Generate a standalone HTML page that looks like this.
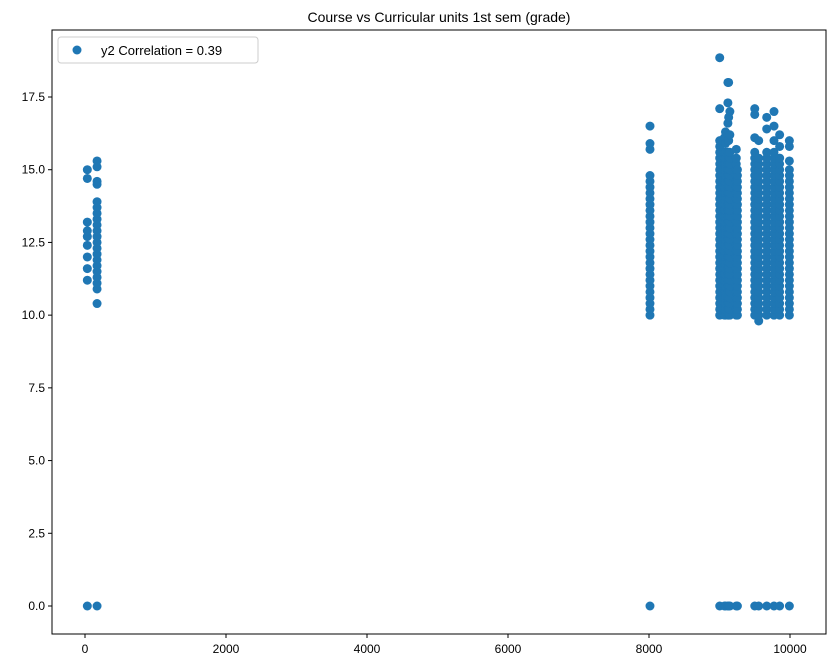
<!DOCTYPE html>
<html><head><meta charset="utf-8"><style>
body{margin:0;background:#fff;}
svg{display:block;font-family:"Liberation Sans","DejaVu Sans",sans-serif;}
</style></head><body>
<svg id="chart" width="835" height="668">
<text x="439" y="22" text-anchor="middle" font-size="14">Course vs Curricular units 1st sem (grade)</text>
<g id="marks"></g>
<g id="axes"></g>
<rect x="52" y="30" width="774" height="604" fill="none" stroke="#000" stroke-width="1"/>
<g>
<rect x="58" y="37" width="200" height="26" rx="3" fill="#fff" fill-opacity="0.8" stroke="#ccc"/>
<circle cx="77" cy="50" r="4.5" fill="#1f77b4"/>
<text x="101" y="55" font-size="13">y2 Correlation = 0.39</text>
</g>
</svg>
<script>
const courses=[33,171,8014,9003,9070,9085,9119,9130,9147,9238,9254,9500,9556,9670,9773,9853,9991];
const grades=[
[0,11.2,11.6,12.0,12.4,12.7,12.9,13.2,14.7,15.0],
[0,10.4,10.9,11.1,11.3,11.5,11.7,11.9,12.1,12.3,12.5,12.7,12.9,13.1,13.3,13.5,13.7,13.9,14.5,14.6,15.1,15.3],
[0,10,10.2,10.4,10.6,10.8,11,11.2,11.4,11.6,11.8,12,12.2,12.4,12.6,12.8,13,13.2,13.4,13.6,13.8,14,14.2,14.4,14.6,14.8,15.7,15.9,16.5],
[0,10,10.2,10.4,10.6,10.8,11,11.2,11.4,11.6,11.8,12,12.2,12.4,12.6,12.8,13,13.2,13.4,13.6,13.8,14,14.2,14.4,14.6,14.8,15,15.2,15.4,15.6,15.8,16,17.1,18.85],
[0,10,10.2,10.4,10.6,10.8,11,11.2,11.4,11.6,11.8,12,12.2,12.4,12.6,12.8,13,13.2,13.4,13.6,13.8,14,14.2,14.4,14.6,14.8,15,15.2,15.4,15.6,16.1],
[0,10,10.2,10.4,10.6,10.8,11,11.2,11.4,11.6,11.8,12,12.2,12.4,12.6,12.8,13,13.2,13.4,13.6,13.8,14,14.2,14.4,14.6,14.8,15,15.2,15.4,15.6,15.9,16.3],
[0,10,10.2,10.4,10.6,10.8,11,11.2,11.4,11.6,11.8,12,12.2,12.4,12.6,12.8,13,13.2,13.4,13.6,13.8,14,14.2,14.4,14.6,14.8,15,15.2,15.6,16,16.6,17.3,18.0],
[0,10,10.2,10.4,10.6,10.8,11,11.2,11.4,11.6,11.8,12,12.2,12.4,12.6,12.8,13,13.2,13.4,13.6,13.8,14,14.2,14.4,14.6,14.8,15,15.2,15.4,15.6,16,16.8,18.0],
[0,10,10.2,10.4,10.6,10.8,11,11.2,11.4,11.6,11.8,12,12.2,12.4,12.6,12.8,13,13.2,13.4,13.6,13.8,14,14.2,14.4,14.6,14.8,15,15.2,15.4,15.6,16.2,17.0],
[0,10,10.2,10.4,10.6,10.8,11,11.2,11.4,11.6,11.8,12,12.2,12.4,12.6,12.8,13,13.2,13.4,13.6,13.8,14,14.2,14.4,14.6,14.8,15,15.2,15.4,15.7],
[0,10,10.2,10.4,10.6,10.8,11,11.2,11.4,11.6,11.8,12,12.2,12.4,12.6,12.8,13,13.2,13.4,13.6,13.8,14,14.2,14.4,14.6,14.8,15],
[0,10,10.2,10.4,10.6,10.8,11,11.2,11.4,11.6,11.8,12,12.2,12.4,12.6,12.8,13,13.2,13.4,13.6,13.8,14,14.2,14.4,14.6,14.8,15,15.2,15.4,15.6,16.1,16.9,17.1],
[0,9.8,10,10.2,10.4,10.6,10.8,11,11.2,11.4,11.6,11.8,12,12.2,12.4,12.6,12.8,13,13.2,13.4,13.6,13.8,14,14.2,14.4,14.6,14.8,15,15.2,15.4,16.0],
[0,10,10.2,10.4,10.6,10.8,11,11.2,11.4,11.6,11.8,12,12.2,12.4,12.6,12.8,13,13.2,13.4,13.6,13.8,14,14.2,14.4,14.6,14.8,15,15.2,15.4,15.6,16.4,16.8],
[0,10,10.2,10.4,10.6,10.8,11,11.2,11.4,11.6,11.8,12,12.2,12.4,12.6,12.8,13,13.2,13.4,13.6,13.8,14,14.2,14.4,14.6,14.8,15,15.2,15.4,15.6,16,16.5,17.0],
[0,10,10.2,10.4,10.6,10.8,11,11.2,11.4,11.6,11.8,12,12.2,12.4,12.6,12.8,13,13.2,13.4,13.6,13.8,14,14.2,14.4,14.6,14.8,15,15.2,15.4,15.8,16.2],
[0,10,10.2,10.4,10.6,10.8,11,11.2,11.4,11.6,11.8,12,12.2,12.4,12.6,12.8,13,13.2,13.4,13.6,13.8,14,14.2,14.4,14.6,14.8,15,15.3,15.8,16.0]
];
const xTicks=[0,2000,4000,6000,8000,10000];
const yTicks=[0,2.5,5,7.5,10,12.5,15,17.5];
const yTickLabels=["0.0","2.5","5.0","7.5","10.0","12.5","15.0","17.5"];
const NS="http://www.w3.org/2000/svg";
function xs(v){return 85+v*(790-85)/10000;}
function ys(v){return 606-v*(606-97)/17.5;}
const marks=document.getElementById('marks');
courses.forEach((c,i)=>{grades[i].forEach(g=>{
  const el=document.createElementNS(NS,'circle');
  el.setAttribute('cx',xs(c));el.setAttribute('cy',ys(g));el.setAttribute('r',4.5);el.setAttribute('fill','#1f77b4');
  
  
  marks.appendChild(el);
});});
const axes=document.getElementById('axes');
xTicks.forEach(t=>{
  const x=xs(t);
  const l=document.createElementNS(NS,'line');
  l.setAttribute('x1',x);l.setAttribute('x2',x);l.setAttribute('y1',634);l.setAttribute('y2',638);l.setAttribute('stroke','#000');
  
  
  axes.appendChild(l);
  const tx=document.createElementNS(NS,'text');
  tx.setAttribute('x',x);tx.setAttribute('y',653);tx.setAttribute('text-anchor','middle');tx.setAttribute('font-size','12');
  tx.textContent=t;
  
  
  axes.appendChild(tx);
});
yTicks.forEach((t,i)=>{
  const y=ys(t);
  const l=document.createElementNS(NS,'line');
  l.setAttribute('x1',48);l.setAttribute('x2',52);l.setAttribute('y1',y);l.setAttribute('y2',y);l.setAttribute('stroke','#000');
  
  
  axes.appendChild(l);
  const tx=document.createElementNS(NS,'text');
  tx.setAttribute('x',45);tx.setAttribute('y',y+4);tx.setAttribute('text-anchor','end');tx.setAttribute('font-size','12');
  tx.textContent=yTickLabels[i];
  
  
  axes.appendChild(tx);
});
</script>
</body></html>
